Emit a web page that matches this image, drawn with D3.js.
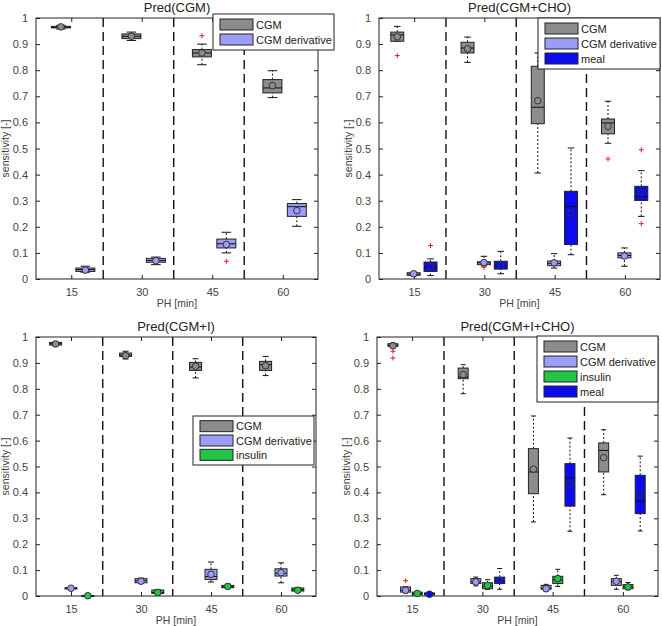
<!DOCTYPE html>
<html>
<head>
<meta charset="utf-8">
<script src="https://cdn.jsdelivr.net/npm/d3@7"></script>
<style>
  body { margin: 0; background: #fff; }
  svg { font-family: "Liberation Sans", Arial, sans-serif; }
</style>
</head>
<body>
<div id="chart"></div>
<script>
// prediction horizons (x groups)
const horizons = [15, 30, 45, 60];
const yTicks = [0, 0.1, 0.2, 0.3, 0.4, 0.5, 0.6, 0.7, 0.8, 0.9, 1];
const seriesNames = ["CGM", "CGM derivative", "insulin", "meal"];
const seriesColors = ["#8c8c8c", "#9d9df6", "#22c444", "#0b0bee"];

// box stats per horizon: [lowWhisker, q1, median, q3, highWhisker, mean]
// Pred(CGM)
const p1Cgm = [[0.958, 0.962, 0.965, 0.968, 0.972, 0.966], [0.914, 0.921, 0.93, 0.939, 0.946, 0.93], [0.821, 0.851, 0.866, 0.879, 0.90, 0.866], [0.695, 0.713, 0.732, 0.764, 0.798, 0.741]];
const p1Deriv = [[0.026, 0.029, 0.036, 0.042, 0.049, 0.034], [0.055, 0.064, 0.071, 0.079, 0.084, 0.07], [0.10, 0.119, 0.135, 0.153, 0.179, 0.132], [0.202, 0.24, 0.277, 0.289, 0.304, 0.262]];
// Pred(CGM+CHO)
const p2Cgm = [[0.911, 0.911, 0.935, 0.946, 0.968, 0.928], [0.83, 0.866, 0.885, 0.907, 0.927, 0.882], [0.406, 0.595, 0.658, 0.815, 0.866, 0.683], [0.52, 0.556, 0.598, 0.613, 0.681, 0.585]];
const p2Deriv = [[0.012, 0.014, 0.019, 0.024, 0.026, 0.02], [0.05, 0.055, 0.062, 0.066, 0.087, 0.063], [0.042, 0.051, 0.06, 0.069, 0.097, 0.062], [0.049, 0.081, 0.09, 0.1, 0.119, 0.088]];
const p2Meal = [[0.013, 0.029, 0.045, 0.065, 0.077, 0.047], [0.02, 0.038, 0.05, 0.068, 0.106, 0.05], [0.093, 0.132, 0.278, 0.336, 0.502, 0.253], [0.24, 0.301, 0.317, 0.355, 0.415, 0.332]];
// Pred(CGM+I)
const p3Cgm = [[0.966, 0.969, 0.974, 0.979, 0.981, 0.973], [0.915, 0.925, 0.93, 0.938, 0.945, 0.928], [0.842, 0.871, 0.884, 0.902, 0.916, 0.887], [0.851, 0.871, 0.893, 0.906, 0.925, 0.889]];
const p3Deriv = [[0.025, 0.027, 0.03, 0.032, 0.034, 0.03], [0.05, 0.051, 0.059, 0.067, 0.069, 0.057], [0.054, 0.064, 0.075, 0.103, 0.131, 0.084], [0.051, 0.077, 0.088, 0.105, 0.128, 0.09]];
const p3Ins = [[0, 0, 0.001, 0.002, 0.003, 0.001], [0.005, 0.01, 0.013, 0.023, 0.025, 0.014], [0.03, 0.032, 0.036, 0.041, 0.045, 0.037], [0.017, 0.019, 0.024, 0.031, 0.033, 0.022]];
// Pred(CGM+I+CHO)
const p4Cgm = [[0.958, 0.964, 0.968, 0.974, 0.977, 0.966], [0.781, 0.839, 0.845, 0.88, 0.893, 0.855], [0.286, 0.395, 0.479, 0.569, 0.695, 0.49], [0.391, 0.479, 0.562, 0.591, 0.642, 0.534]];
const p4Deriv = [[0.012, 0.015, 0.022, 0.035, 0.035, 0.022], [0.039, 0.048, 0.055, 0.067, 0.073, 0.054], [0.02, 0.026, 0.03, 0.041, 0.045, 0.028], [0.026, 0.041, 0.055, 0.067, 0.08, 0.057]];
const p4Ins = [[0.004, 0.005, 0.01, 0.015, 0.017, 0.01], [0.026, 0.028, 0.038, 0.051, 0.063, 0.041], [0.037, 0.048, 0.062, 0.076, 0.103, 0.067], [0.024, 0.028, 0.035, 0.044, 0.052, 0.035]];
const p4Meal = [[0.003, 0.004, 0.007, 0.012, 0.013, 0.007], [0.026, 0.048, 0.057, 0.073, 0.106, 0.06], [0.25, 0.347, 0.457, 0.511, 0.61, 0.431], [0.251, 0.318, 0.366, 0.466, 0.54, 0.389]];

// outliers: [horizon index, value]
const p1Out = [[[2, 0.932]], [[2, 0.068]]];
const p2Out = [[[0, 0.856], [3, 0.46]], [[1, 0.045]], [[0, 0.128], [3, 0.495], [3, 0.212]]];
const p3Out = [[], [], []];
const p4Out = [[[0, 0.945], [0, 0.919]], [[0, 0.059]], [], []];

const W = 662, H = 626;
const svg = d3.select("#chart").append("svg")
  .attr("width", W)
  .attr("height", H);

const panels = [
  { title: "Pred(CGM)", series: [0, 1], stats: [p1Cgm, p1Deriv], out: p1Out,
    rect: { l: 36, r: 318, t: 18, b: 279 }, offsets: [-2.2, 3.0], bw: 19,
    legend: { x: 213, y: 14, w: 121, h: 36 } },
  { title: "Pred(CGM+CHO)", series: [0, 1, 3], stats: [p2Cgm, p2Deriv, p2Meal], out: p2Out,
    rect: { l: 379, r: 660, t: 18, b: 279 }, offsets: [-3.6, -0.1, 3.5], bw: 13,
    legend: { x: 538, y: 18, w: 122, h: 51 } },
  { title: "Pred(CGM+I)", series: [0, 1, 2], stats: [p3Cgm, p3Deriv, p3Ins], out: p3Out,
    rect: { l: 36, r: 316, t: 337, b: 596 }, offsets: [-3.3, 0, 3.6], bw: 12,
    legend: { x: 193, y: 416, w: 121, h: 49 } },
  { title: "Pred(CGM+I+CHO)", series: [0, 1, 2, 3], stats: [p4Cgm, p4Deriv, p4Ins, p4Meal], out: p4Out,
    rect: { l: 377, r: 658, t: 337, b: 596 }, offsets: [-4.1, -1.4, 1.1, 3.7], bw: 10,
    legend: { x: 537, y: 336, w: 121, h: 66 } }
];

const separators = [21.8, 36.8, 51.8];
const fmt = d3.format("~g");

panels.forEach(p => {
  const { l, r, t, b } = p.rect;
  const x = d3.scaleLinear().domain([7.5, 67.5]).range([l, r]);
  const y = d3.scaleLinear().domain([0, 1]).range([b, t]);
  const g = svg.append("g");

  // separators
  g.selectAll("line.sep").data(separators).join("line")
    .attr("class", "sep")
    .attr("x1", d => x(d)).attr("x2", d => x(d))
    .attr("y1", t).attr("y2", b)
    .attr("stroke", "#111").attr("stroke-width", 1.4)
    .attr("stroke-dasharray", "9,5");

  // axes with inward ticks
  const left = d3.axisLeft(y).tickValues(yTicks).tickFormat(fmt).tickSizeInner(-4).tickSizeOuter(0).tickPadding(8);
  const right = d3.axisRight(y).tickValues(yTicks).tickFormat("").tickSizeInner(-4).tickSizeOuter(0);
  const bottom = d3.axisBottom(x).tickValues(horizons).tickFormat(fmt).tickSizeInner(-4).tickSizeOuter(0).tickPadding(9);
  const top = d3.axisTop(x).tickValues(horizons).tickFormat("").tickSizeInner(-4).tickSizeOuter(0);

  const axes = [
    g.append("g").attr("transform", `translate(${l},0)`).call(left),
    g.append("g").attr("transform", `translate(${r},0)`).call(right),
    g.append("g").attr("transform", `translate(0,${b})`).call(bottom),
    g.append("g").attr("transform", `translate(0,${t})`).call(top)
  ];
  axes.forEach(a => {
    a.select(".domain").remove();
    a.selectAll(".tick line").attr("stroke", "#222");
    a.selectAll("text").attr("fill", "#444").style("font-size", "11px");
  });

  g.append("rect")
    .attr("x", l).attr("y", t).attr("width", r - l).attr("height", b - t)
    .attr("fill", "none").attr("stroke", "#222").attr("stroke-width", 1);

  // boxes
  p.series.forEach((si, k) => {
    const color = seriesColors[si];
    const rows = p.stats[k].map((s, i) => ({ s, cx: x(horizons[i] + p.offsets[k]) }));
    const bw = p.bw, cap = bw * 0.5;
    const sg = g.append("g");

    // whiskers
    sg.selectAll("line.wh").data(rows.flatMap(d => [[d, 0, 1], [d, 3, 4]])).join("line")
      .attr("x1", d => d[0].cx).attr("x2", d => d[0].cx)
      .attr("y1", d => y(d[0].s[d[1]])).attr("y2", d => y(d[0].s[d[2]]))
      .attr("stroke", "#111").attr("stroke-dasharray", "2,2");
    sg.selectAll("line.cap").data(rows.flatMap(d => [[d, 0], [d, 4]])).join("line")
      .attr("x1", d => d[0].cx - cap / 2).attr("x2", d => d[0].cx + cap / 2)
      .attr("y1", d => y(d[0].s[d[1]])).attr("y2", d => y(d[0].s[d[1]]))
      .attr("stroke", "#111");

    sg.selectAll("rect").data(rows).join("rect")
      .attr("x", d => d.cx - bw / 2).attr("width", bw)
      .attr("y", d => y(d.s[3])).attr("height", d => Math.max(1, y(d.s[1]) - y(d.s[3])))
      .attr("fill", color).attr("stroke", "#222").attr("stroke-width", 1);

    sg.selectAll("line.med").data(rows).join("line")
      .attr("x1", d => d.cx - bw / 2).attr("x2", d => d.cx + bw / 2)
      .attr("y1", d => y(d.s[2])).attr("y2", d => y(d.s[2]))
      .attr("stroke", "#111");

    sg.selectAll("circle").data(rows).join("circle")
      .attr("cx", d => d.cx).attr("cy", d => y(d.s[5])).attr("r", 3.3)
      .attr("fill", color).attr("stroke", "#333").attr("stroke-width", 1);

    // outliers
    sg.selectAll("path.out").data(p.out[k]).join("path")
      .attr("d", d => {
        const ox = x(horizons[d[0]] + p.offsets[k]), oy = y(d[1]);
        return `M${ox - 2.5},${oy}H${ox + 2.5}M${ox},${oy - 2.5}V${oy + 2.5}`;
      })
      .attr("stroke", "#e02020").attr("stroke-width", 1);
  });

  // titles and labels
  const cx = (l + r) / 2;
  g.append("text").attr("x", cx).attr("y", t - 6)
    .attr("text-anchor", "middle").attr("fill", "#222")
    .style("font-size", "13px").text(p.title);
  g.append("text").attr("x", cx).attr("y", b + 28)
    .attr("text-anchor", "middle").attr("fill", "#444")
    .style("font-size", "10.5px").text("PH [min]");
  g.append("text")
    .attr("transform", `translate(${l - 27},${(t + b) / 2}) rotate(-90)`)
    .attr("text-anchor", "middle").attr("fill", "#444")
    .style("font-size", "10.5px").text("sensitivity [-]");

  // legend
  const L = p.legend, n = p.series.length;
  const rowH = (L.h - 6) / n;
  const lg = svg.append("g").attr("transform", `translate(${L.x},${L.y})`);
  lg.append("rect").attr("width", L.w).attr("height", L.h)
    .attr("fill", "#fff").attr("stroke", "#222");
  p.series.forEach((si, i) => {
    const ry = 3 + i * rowH + (rowH - 11) / 2;
    lg.append("rect").attr("x", 7).attr("y", ry).attr("width", 33).attr("height", 11)
      .attr("fill", seriesColors[si]).attr("stroke", "#222");
    lg.append("text").attr("x", 43).attr("y", ry + 9.5)
      .attr("fill", "#222").style("font-size", "11px").text(seriesNames[si]);
  });
});
</script>
</body>
</html>
